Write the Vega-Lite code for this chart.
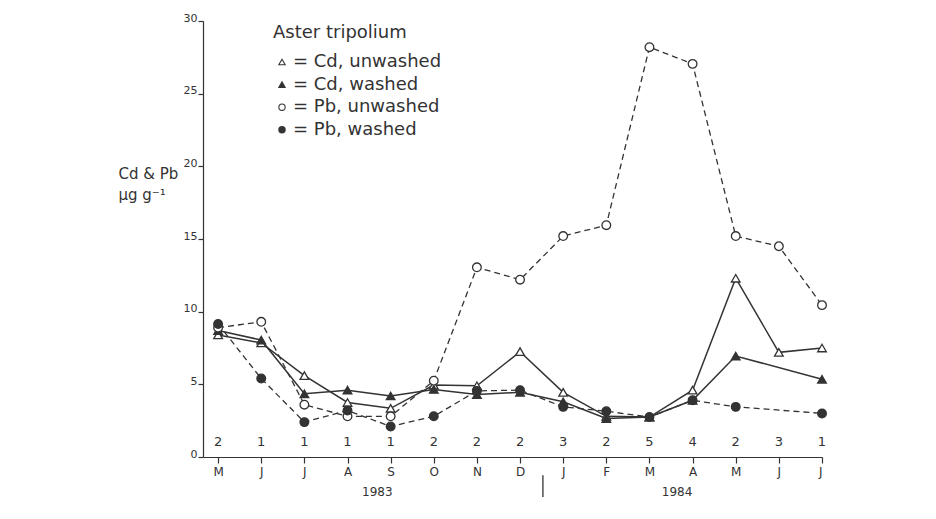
{
  "$schema": "https://vega.github.io/schema/vega-lite/v6.json",
  "autosize": {"type": "none"},
  "padding": {"left": 203, "top": 21, "right": 114, "bottom": 62},
  "width": 619,
  "height": 436,
  "background": "white",
  "config": {
    "view": {"stroke": null},
    "font": "DejaVu Sans",
    "axis": {"grid": false, "domainColor": "#333", "tickColor": "#333", "labelColor": "#333", "titleColor": "#333", "domainWidth": 1.2, "tickWidth": 1.2}
  },
  "datasets": {
    "conc": [
      {"m": 0, "s": "Cd, unwashed", "v": 8.4}, {"m": 1, "s": "Cd, unwashed", "v": 7.85}, {"m": 2, "s": "Cd, unwashed", "v": 5.6}, {"m": 3, "s": "Cd, unwashed", "v": 3.75}, {"m": 4, "s": "Cd, unwashed", "v": 3.35}, {"m": 5, "s": "Cd, unwashed", "v": 4.95}, {"m": 6, "s": "Cd, unwashed", "v": 4.9}, {"m": 7, "s": "Cd, unwashed", "v": 7.25}, {"m": 8, "s": "Cd, unwashed", "v": 4.45}, {"m": 9, "s": "Cd, unwashed", "v": 2.8}, {"m": 10, "s": "Cd, unwashed", "v": 2.75}, {"m": 11, "s": "Cd, unwashed", "v": 4.6}, {"m": 12, "s": "Cd, unwashed", "v": 12.3}, {"m": 13, "s": "Cd, unwashed", "v": 7.2}, {"m": 14, "s": "Cd, unwashed", "v": 7.5},
      {"m": 0, "s": "Cd, washed", "v": 8.7}, {"m": 1, "s": "Cd, washed", "v": 8.05}, {"m": 2, "s": "Cd, washed", "v": 4.35}, {"m": 3, "s": "Cd, washed", "v": 4.6}, {"m": 4, "s": "Cd, washed", "v": 4.2}, {"m": 5, "s": "Cd, washed", "v": 4.65}, {"m": 6, "s": "Cd, washed", "v": 4.3}, {"m": 7, "s": "Cd, washed", "v": 4.45}, {"m": 8, "s": "Cd, washed", "v": 3.8}, {"m": 9, "s": "Cd, washed", "v": 2.65}, {"m": 10, "s": "Cd, washed", "v": 2.75}, {"m": 11, "s": "Cd, washed", "v": 3.9}, {"m": 12, "s": "Cd, washed", "v": 6.95}, {"m": 14, "s": "Cd, washed", "v": 5.35},
      {"m": 0, "s": "Pb, unwashed", "v": 8.9}, {"m": 1, "s": "Pb, unwashed", "v": 9.3}, {"m": 2, "s": "Pb, unwashed", "v": 3.6}, {"m": 3, "s": "Pb, unwashed", "v": 2.8}, {"m": 4, "s": "Pb, unwashed", "v": 2.8}, {"m": 5, "s": "Pb, unwashed", "v": 5.25}, {"m": 6, "s": "Pb, unwashed", "v": 13.05}, {"m": 7, "s": "Pb, unwashed", "v": 12.2}, {"m": 8, "s": "Pb, unwashed", "v": 15.2}, {"m": 9, "s": "Pb, unwashed", "v": 15.95}, {"m": 10, "s": "Pb, unwashed", "v": 28.2}, {"m": 11, "s": "Pb, unwashed", "v": 27.05}, {"m": 12, "s": "Pb, unwashed", "v": 15.2}, {"m": 13, "s": "Pb, unwashed", "v": 14.5}, {"m": 14, "s": "Pb, unwashed", "v": 10.45},
      {"m": 0, "s": "Pb, washed", "v": 9.15}, {"m": 1, "s": "Pb, washed", "v": 5.4}, {"m": 2, "s": "Pb, washed", "v": 2.4}, {"m": 3, "s": "Pb, washed", "v": 3.2}, {"m": 4, "s": "Pb, washed", "v": 2.1}, {"m": 5, "s": "Pb, washed", "v": 2.8}, {"m": 6, "s": "Pb, washed", "v": 4.55}, {"m": 7, "s": "Pb, washed", "v": 4.6}, {"m": 8, "s": "Pb, washed", "v": 3.45}, {"m": 9, "s": "Pb, washed", "v": 3.15}, {"m": 10, "s": "Pb, washed", "v": 2.75}, {"m": 11, "s": "Pb, washed", "v": 3.9}, {"m": 12, "s": "Pb, washed", "v": 3.45}, {"m": 14, "s": "Pb, washed", "v": 3.0}
    ],
    "counts": [
      {"m": 0, "n": 2}, {"m": 1, "n": 1}, {"m": 2, "n": 1}, {"m": 3, "n": 1}, {"m": 4, "n": 1}, {"m": 5, "n": 2}, {"m": 6, "n": 2}, {"m": 7, "n": 2}, {"m": 8, "n": 3}, {"m": 9, "n": 2}, {"m": 10, "n": 5}, {"m": 11, "n": 4}, {"m": 12, "n": 2}, {"m": 13, "n": 3}, {"m": 14, "n": 1}
    ],
    "years": [
      {"x": 3.69, "y": -2.4, "label": "1983"},
      {"x": 10.64, "y": -2.4, "label": "1984"}
    ],
    "sep": [{"x": 7.53, "y": -1.25, "y2": -2.75}]
  },
  "layer": [
    {
      "data": {"name": "conc"},
      "transform": [{"filter": "indexof(datum.s, 'Cd') === 0"}],
      "mark": {"type": "line", "color": "#333", "strokeWidth": 1.5},
      "encoding": {
        "x": {"field": "m", "type": "quantitative", "scale": {"domain": [-0.35, 14], "nice": false, "zero": false},
          "axis": {"values": [0,1,2,3,4,5,6,7,8,9,10,11,12,13,14], "title": null, "labelExpr": "['M','J','J','A','S','O','N','D','J','F','M','A','M','J','J'][datum.value]", "labelFontSize": 12, "tickSize": 6, "labelPadding": 3}},
        "y": {"field": "v", "type": "quantitative", "scale": {"domain": [0, 30], "nice": false},
          "axis": {"values": [0,5,10,15,20,25,30], "tickSize": 5, "labelFontSize": 11, "labelBaseline": "alphabetic", "labelPadding": 1,
            "title": ["Cd & Pb", "µg g⁻¹"], "titleAngle": 0, "titleAlign": "left", "titleBaseline": "alphabetic", "titleX": -85, "titleY": 157, "titleFontSize": 15, "titleFontWeight": "normal", "titleLineHeight": 21}},
        "detail": {"field": "s"}
      }
    },
    {
      "data": {"name": "conc"},
      "transform": [{"filter": "indexof(datum.s, 'Pb') === 0"}],
      "mark": {"type": "line", "color": "#333", "strokeWidth": 1.3, "strokeDash": [6, 4]},
      "encoding": {
        "x": {"field": "m", "type": "quantitative"},
        "y": {"field": "v", "type": "quantitative"},
        "detail": {"field": "s"}
      }
    },
    {
      "data": {"name": "conc"},
      "mark": {"type": "point", "filled": true, "strokeWidth": 1.3, "size": 75, "opacity": 1},
      "encoding": {
        "x": {"field": "m", "type": "quantitative"},
        "y": {"field": "v", "type": "quantitative"},
        "stroke": {"field": "s", "type": "nominal",
          "scale": {"domain": ["Cd, unwashed", "Cd, washed", "Pb, unwashed", "Pb, washed"], "range": ["#333", "#333", "#333", "#333"]}},
        "shape": {"field": "s", "type": "nominal",
          "scale": {"domain": ["Cd, unwashed", "Cd, washed", "Pb, unwashed", "Pb, washed"], "range": ["triangle-up", "triangle-up", "circle", "circle"]},
          "legend": {"orient": "none", "legendX": 70, "legendY": 3, "title": "Aster tripolium", "titleFontSize": 18, "titleFontWeight": "normal", "titleColor": "#333", "titlePadding": 11,
            "labelFontSize": 18, "labelColor": "#333", "labelExpr": "'= ' + datum.label", "labelOffset": 2, "rowPadding": 4.6, "symbolSize": 40, "symbolStrokeWidth": 1.1}},
        "fill": {"field": "s", "type": "nominal",
          "scale": {"domain": ["Cd, unwashed", "Cd, washed", "Pb, unwashed", "Pb, washed"], "range": ["white", "#333", "white", "#333"]}}
      }
    },
    {
      "data": {"name": "counts"},
      "mark": {"type": "text", "fontSize": 13, "color": "#333", "baseline": "middle"},
      "encoding": {
        "x": {"field": "m", "type": "quantitative"},
        "y": {"datum": 1.0},
        "text": {"field": "n"}
      }
    },
    {
      "data": {"name": "years"},
      "mark": {"type": "text", "fontSize": 12, "color": "#333", "baseline": "middle"},
      "encoding": {
        "x": {"field": "x", "type": "quantitative"},
        "y": {"field": "y", "type": "quantitative"},
        "text": {"field": "label"}
      }
    },
    {
      "data": {"name": "sep"},
      "mark": {"type": "rule", "color": "#333", "strokeWidth": 1.3},
      "encoding": {
        "x": {"field": "x", "type": "quantitative"},
        "y": {"field": "y", "type": "quantitative"},
        "y2": {"field": "y2"}
      }
    }
  ]
}
